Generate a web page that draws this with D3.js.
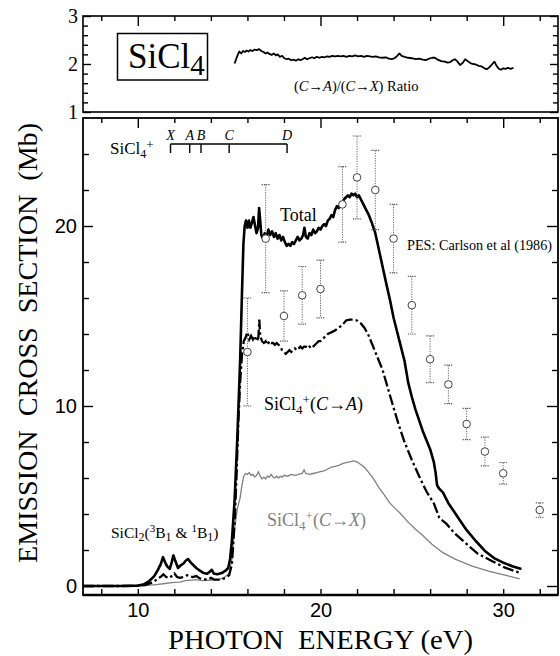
<html>
<head>
<title>SiCl4 emission cross section</title>
<script src="https://cdn.jsdelivr.net/npm/d3@7"></script>
<style>
body { margin: 0; background: #fff; }
svg { display: block; }
text.serif, text.serif tspan { font-family: "Liberation Serif", "Times New Roman", Times, serif; }
.tick text { font-family: "Liberation Sans", Arial, sans-serif; font-size: 20px; fill: #000; }
.toppanel .tick text { font-family: "Liberation Serif", "Times New Roman", serif; font-size: 20px; }
.tick line { stroke: #000; stroke-width: 1.4; }
</style>
</head>
<body>
<svg width="560" height="656"></svg>
<script>
// ---- data ----
// total emission cross section (Mb) vs photon energy (eV)
var totalCurve = [[7,0],[9,0],[10,0.02],[10.3,0.08],[10.6,0.25],[10.9,0.55],[11.1,0.9],[11.25,1.2],[11.38,1.6],[11.5,1.3],[11.6,1.1],[11.75,0.95],[11.85,1.3],[11.95,1.7],[12.05,1.4],[12.2,1.0],[12.35,1.15],[12.5,1.25],[12.62,1.4],[12.75,1.5],[12.9,1.3],[13.05,1.15],[13.2,1.0],[13.4,0.85],[13.6,0.72],[13.8,0.68],[13.95,0.8],[14.05,0.9],[14.15,0.7],[14.35,0.65],[14.6,0.72],[14.8,0.85],[14.95,1.0],[15.05,1.5],[15.15,2.5],[15.3,4.8],[15.45,8.3],[15.6,12.5],[15.7,16.2],[15.78,19.0],[15.85,20.0],[15.92,20.3],[16.0,19.9],[16.08,20.3],[16.16,19.9],[16.25,20.2],[16.33,20.5],[16.42,20.0],[16.5,19.6],[16.58,19.9],[16.64,21.0],[16.7,20.3],[16.76,19.5],[16.85,19.3],[16.95,19.6],[17.05,19.4],[17.15,19.8],[17.25,19.5],[17.35,19.7],[17.45,19.4],[17.55,19.6],[17.65,19.3],[17.75,19.5],[17.85,19.2],[17.95,19.4],[18.05,19.1],[18.15,18.9],[18.25,19.0],[18.35,18.9],[18.45,19.1],[18.55,19.0],[18.65,19.2],[18.75,19.4],[18.85,19.2],[18.95,19.3],[19.05,19.5],[19.12,19.9],[19.2,19.4],[19.3,19.3],[19.4,19.6],[19.5,19.5],[19.6,19.8],[19.7,19.6],[19.8,19.7],[19.9,19.9],[20.0,19.8],[20.1,20.0],[20.2,20.1],[20.3,20.0],[20.4,20.3],[20.5,20.4],[20.6,20.6],[20.7,20.5],[20.8,20.9],[20.9,21.1],[21.0,21.0],[21.1,21.3],[21.2,21.3],[21.3,21.5],[21.4,21.6],[21.5,21.7],[21.6,21.6],[21.7,21.8],[21.8,21.7],[21.9,21.8],[22.0,21.6],[22.1,21.7],[22.2,21.5],[22.35,21.2],[22.5,20.9],[22.65,20.6],[22.8,20.2],[23.0,19.6],[23.15,18.9],[23.3,18.2],[23.45,17.5],[23.6,16.8],[23.8,15.9],[24.0,14.9],[24.2,14.1],[24.4,13.3],[24.6,12.5],[24.8,11.3],[25.0,10.5],[25.2,9.8],[25.4,9.2],[25.6,8.6],[25.8,8.1],[26.0,7.6],[26.2,6.9],[26.3,6.3],[26.38,5.6],[26.5,5.4],[26.7,5.2],[27.0,4.6],[27.3,4.15],[27.6,3.7],[28.0,3.1],[28.5,2.5],[29.0,1.95],[29.5,1.55],[30.0,1.3],[30.5,1.1],[31.0,0.95]];

// SiCl4+ (C->A) band
var caCurve = [[7,0],[9,0],[10,0.01],[10.4,0.05],[10.8,0.2],[11.1,0.4],[11.3,0.55],[11.4,0.65],[11.55,0.5],[11.75,0.45],[11.9,0.6],[12.0,0.7],[12.15,0.5],[12.3,0.45],[12.5,0.5],[12.7,0.6],[12.85,0.55],[13.0,0.5],[13.2,0.55],[13.4,0.42],[13.6,0.38],[13.8,0.35],[14.0,0.45],[14.2,0.35],[14.5,0.35],[14.8,0.45],[15.0,0.6],[15.15,1.2],[15.3,3.5],[15.4,6.0],[15.5,9.0],[15.6,11.3],[15.7,12.8],[15.8,13.6],[15.9,13.8],[16.0,14.1],[16.1,13.7],[16.2,13.9],[16.3,13.7],[16.4,13.9],[16.5,13.6],[16.6,13.8],[16.65,14.8],[16.7,13.9],[16.8,13.6],[16.9,13.5],[17.0,13.6],[17.1,13.4],[17.2,13.6],[17.3,13.5],[17.4,13.5],[17.5,13.4],[17.6,13.5],[17.7,13.4],[17.8,13.3],[17.9,13.1],[18.0,13.0],[18.1,12.9],[18.2,13.0],[18.3,13.1],[18.4,13.0],[18.5,13.1],[18.6,13.2],[18.7,13.1],[18.8,13.2],[18.9,13.3],[19.0,13.2],[19.1,13.3],[19.2,13.3],[19.3,13.2],[19.4,13.3],[19.5,13.2],[19.6,13.3],[19.7,13.4],[19.8,13.5],[19.9,13.6],[20.0,13.6],[20.2,13.8],[20.4,14.0],[20.6,14.1],[20.8,14.2],[21.0,14.35],[21.2,14.5],[21.4,14.75],[21.6,14.8],[21.8,14.8],[22.0,14.75],[22.2,14.6],[22.4,14.35],[22.6,14.0],[22.8,13.5],[23.0,13.0],[23.2,12.5],[23.4,12.0],[23.6,11.3],[23.8,10.6],[24.0,9.9],[24.3,8.9],[24.6,8.0],[25.0,7.0],[25.4,6.1],[25.8,5.25],[26.2,4.6],[26.5,3.8],[26.6,3.7],[26.9,3.45],[27.3,2.97],[27.9,2.42],[28.6,1.8],[29.4,1.38],[30.1,1.02],[31.0,0.7]];

// SiCl4+ (C->X) band
var cxCurve = [[7,0],[9,0],[10,0.01],[10.5,0.03],[11.0,0.08],[11.5,0.14],[12.0,0.2],[12.3,0.22],[12.6,0.3],[12.9,0.33],[13.2,0.35],[13.5,0.3],[13.8,0.32],[14.1,0.33],[14.4,0.35],[14.7,0.45],[15.0,0.7],[15.15,1.5],[15.3,3.2],[15.45,4.3],[15.6,4.9],[15.7,5.6],[15.8,6.1],[15.9,6.25],[16.0,6.2],[16.1,6.3],[16.2,6.15],[16.3,6.2],[16.4,6.05],[16.5,6.15],[16.6,6.35],[16.7,6.1],[16.8,5.95],[16.9,6.05],[17.0,5.95],[17.1,6.1],[17.2,6.05],[17.3,6.2],[17.4,6.05],[17.5,6.0],[17.6,6.1],[17.7,6.0],[17.8,6.1],[17.9,6.05],[18.0,6.15],[18.2,6.1],[18.4,6.2],[18.6,6.15],[18.8,6.2],[19.0,6.25],[19.1,6.45],[19.2,6.25],[19.4,6.2],[19.6,6.25],[19.8,6.3],[20.0,6.35],[20.2,6.4],[20.4,6.5],[20.6,6.6],[20.8,6.65],[21.0,6.7],[21.2,6.8],[21.4,6.85],[21.6,6.9],[21.8,6.95],[22.0,6.9],[22.2,6.75],[22.4,6.6],[22.6,6.35],[22.8,6.1],[23.0,5.8],[23.2,5.47],[23.5,5.05],[23.8,4.6],[24.1,4.3],[24.4,4.0],[24.8,3.55],[25.2,3.15],[25.6,2.8],[26.1,2.32],[26.7,1.85],[27.4,1.48],[28.3,1.11],[29.2,0.83],[30.1,0.6],[30.9,0.4]];

// (C->A)/(C->X) ratio, top panel
var ratioCurve = [[15.3,2.01],[15.38,2.1],[15.48,2.2],[15.56,2.26],[15.66,2.22],[15.76,2.27],[15.86,2.25],[15.96,2.28],[16.06,2.26],[16.16,2.29],[16.28,2.27],[16.4,2.3],[16.52,2.29],[16.64,2.31],[16.76,2.27],[16.88,2.25],[17.0,2.22],[17.1,2.24],[17.2,2.21],[17.32,2.19],[17.44,2.22],[17.56,2.18],[17.66,2.2],[17.78,2.15],[17.9,2.17],[18.02,2.12],[18.14,2.1],[18.26,2.11],[18.4,2.08],[18.52,2.09],[18.66,2.07],[18.78,2.1],[18.9,2.08],[19.02,2.1],[19.14,2.13],[19.26,2.1],[19.4,2.12],[19.54,2.14],[19.66,2.12],[19.8,2.15],[19.94,2.13],[20.08,2.15],[20.22,2.14],[20.36,2.16],[20.5,2.15],[20.64,2.17],[20.8,2.16],[20.96,2.17],[21.1,2.16],[21.26,2.17],[21.42,2.15],[21.58,2.17],[21.74,2.16],[21.9,2.18],[22.06,2.16],[22.22,2.17],[22.38,2.15],[22.54,2.17],[22.7,2.16],[22.86,2.15],[23.02,2.16],[23.2,2.14],[23.4,2.13],[23.58,2.14],[23.74,2.11],[23.9,2.1],[24.05,2.12],[24.2,2.17],[24.32,2.22],[24.44,2.17],[24.6,2.15],[24.8,2.13],[25.0,2.12],[25.2,2.1],[25.4,2.11],[25.6,2.09],[25.76,2.08],[25.94,2.11],[26.12,2.13],[26.26,2.13],[26.42,2.09],[26.6,2.06],[26.8,2.05],[26.96,2.03],[27.1,2.04],[27.24,2.08],[27.36,2.1],[27.5,2.05],[27.64,1.98],[27.78,2.02],[27.92,2.1],[28.06,2.06],[28.2,2.02],[28.34,2.0],[28.5,1.99],[28.66,1.96],[28.82,1.95],[28.98,1.91],[29.1,1.89],[29.24,1.93],[29.38,1.99],[29.52,2.05],[29.64,1.96],[29.76,1.9],[29.88,1.88],[30.0,1.91],[30.12,1.9],[30.26,1.92],[30.4,1.9],[30.56,1.92]];

// PES: Carlson et al (1986)
var pesEnergy = [16, 17, 18, 19, 20, 21.2, 22, 23, 24, 25, 26, 27, 28, 29, 30, 32];
var pesValue  = [13.0, 19.3, 15.0, 16.15, 16.5, 21.2, 22.7, 22.0, 19.3, 15.6, 12.6, 11.2, 9.0, 7.47, 6.26, 4.22];
var pesError  = [3.0, 3.0, 1.4, 1.6, 1.6, 2.1, 2.3, 2.2, 1.9, 1.6, 1.3, 1.07, 0.87, 0.8, 0.6, 0.4];

// SiCl4+ ionic state thresholds
var stateNames = ["X", "A", "B", "C", "D"];
var stateEnergy = [11.79, 12.84, 13.46, 15.0, 18.17];

// ticks
var xMinorTicks = [8, 12, 14, 16, 18, 22, 24, 26, 28, 32];
var xMajorTicks = [10, 20, 30];
var yMinorTicks = [2, 4, 6, 8, 12, 14, 16, 18, 22, 24];
var yMajorTicks = [0, 10, 20];
var rMinorTicks = [1.2, 1.4, 1.6, 1.8, 2.2, 2.4, 2.6, 2.8];
var rMajorTicks = [1, 2, 3];

var SERIF = "Liberation Serif, Times New Roman, serif";
var svg = d3.select("svg");

var x = d3.scaleLinear().domain([7, 33]).range([83, 558]);
var y = d3.scaleLinear().domain([-0.5, 26]).range([595, 118]);
var yr = d3.scaleLinear().domain([1, 3]).range([112, 16]);

function noDomain(g) { g.select(".domain").remove(); }

// frames
svg.append("rect").attr("x", x(7)).attr("y", yr(3))
  .attr("width", x(33) - x(7)).attr("height", yr(1) - yr(3))
  .attr("fill", "none").attr("stroke", "#000").attr("stroke-width", 1.6);
svg.append("rect").attr("x", x(7)).attr("y", y(26))
  .attr("width", x(33) - x(7)).attr("height", y(-0.5) - y(26))
  .attr("fill", "none").attr("stroke", "#000").attr("stroke-width", 1.8);
svg.append("line").attr("x1", x(7)).attr("x2", x(33)).attr("y1", y(-0.5)).attr("y2", y(-0.5))
  .attr("stroke", "#000").attr("stroke-width", 2.4);

// ---- top panel axes ----
var topG = svg.append("g").attr("class", "toppanel");
topG.append("g").attr("transform", "translate(0," + yr(3) + ")")
  .call(d3.axisTop(x).tickValues(xMinorTicks).tickSize(-5).tickFormat("")).call(noDomain);
topG.append("g").attr("transform", "translate(0," + yr(3) + ")")
  .call(d3.axisTop(x).tickValues(xMajorTicks).tickSize(-10).tickFormat("")).call(noDomain);
topG.append("g").attr("transform", "translate(" + x(7) + ",0)")
  .call(d3.axisLeft(yr).tickValues(rMinorTicks).tickSize(-5).tickFormat("")).call(noDomain);
topG.append("g").attr("transform", "translate(" + x(7) + ",0)")
  .call(d3.axisLeft(yr).tickValues(rMajorTicks).tickSize(-8).tickPadding(5).tickFormat(d3.format("d"))).call(noDomain);
topG.append("g").attr("transform", "translate(" + x(33) + ",0)")
  .call(d3.axisRight(yr).tickValues(rMinorTicks).tickSize(-5).tickFormat("")).call(noDomain);
topG.append("g").attr("transform", "translate(" + x(33) + ",0)")
  .call(d3.axisRight(yr).tickValues(rMajorTicks).tickSize(-8).tickFormat("")).call(noDomain);

// ---- main panel axes ----
svg.append("g").attr("transform", "translate(0," + y(-0.5) + ")")
  .call(d3.axisBottom(x).tickValues(xMinorTicks).tickSize(-6).tickFormat("")).call(noDomain);
svg.append("g").attr("transform", "translate(0," + y(-0.5) + ")")
  .call(d3.axisBottom(x).tickValues(xMajorTicks).tickSize(-6).tickPadding(8).tickFormat(d3.format("d"))).call(noDomain);
svg.append("g").attr("transform", "translate(0," + y(26) + ")")
  .call(d3.axisTop(x).tickValues(xMinorTicks).tickSize(-5).tickFormat("")).call(noDomain);
svg.append("g").attr("transform", "translate(0," + y(26) + ")")
  .call(d3.axisTop(x).tickValues(xMajorTicks).tickSize(-10).tickFormat("")).call(noDomain);
svg.append("g").attr("transform", "translate(" + x(7) + ",0)")
  .call(d3.axisLeft(y).tickValues(yMinorTicks).tickSize(-6).tickFormat("")).call(noDomain);
svg.append("g").attr("transform", "translate(" + x(7) + ",0)")
  .call(d3.axisLeft(y).tickValues(yMajorTicks).tickSize(-10).tickPadding(6).tickFormat(d3.format("d"))).call(noDomain);
svg.append("g").attr("transform", "translate(" + x(33) + ",0)")
  .call(d3.axisRight(y).tickValues(yMinorTicks).tickSize(-6).tickFormat("")).call(noDomain);
svg.append("g").attr("transform", "translate(" + x(33) + ",0)")
  .call(d3.axisRight(y).tickValues(yMajorTicks).tickSize(-11).tickFormat("")).call(noDomain);

// ---- curves ----
var line = d3.line().x(function (d) { return x(d[0]); }).y(function (d) { return y(d[1]); });
var rline = d3.line().x(function (d) { return x(d[0]); }).y(function (d) { return yr(d[1]); });

svg.append("path").datum(ratioCurve).attr("d", rline)
  .attr("fill", "none").attr("stroke", "#000").attr("stroke-width", 1.8).attr("stroke-linejoin", "round");

svg.append("path").datum(cxCurve).attr("d", line)
  .attr("fill", "none").attr("stroke", "#808080").attr("stroke-width", 1.3);
svg.append("path").datum(caCurve).attr("d", line)
  .attr("fill", "none").attr("stroke", "#000").attr("stroke-width", 2.3)
  .attr("stroke-dasharray", "11,3,2.5,3");
svg.append("path").datum(totalCurve).attr("d", line)
  .attr("fill", "none").attr("stroke", "#000").attr("stroke-width", 2.6).attr("stroke-linejoin", "round");

// ---- PES points with error bars ----
var pes = pesEnergy.map(function (e, i) { return { e: e, v: pesValue[i], err: pesError[i] }; });
var pg = svg.append("g").selectAll("g").data(pes).enter().append("g");
pg.append("line")
  .attr("x1", function (d) { return x(d.e); }).attr("x2", function (d) { return x(d.e); })
  .attr("y1", function (d) { return y(d.v + d.err); }).attr("y2", function (d) { return y(d.v - d.err); })
  .attr("stroke", "#666").attr("stroke-width", 1).attr("stroke-dasharray", "1.2,1.3");
pg.selectAll("line.cap").data(function (d) { return [d.v + d.err, d.v - d.err].map(function (v) { return { e: d.e, v: v }; }); })
  .enter().append("line").attr("class", "cap")
  .attr("x1", function (d) { return x(d.e) - 4; }).attr("x2", function (d) { return x(d.e) + 4; })
  .attr("y1", function (d) { return y(d.v); }).attr("y2", function (d) { return y(d.v); })
  .attr("stroke", "#555").attr("stroke-width", 1.2).attr("stroke-dasharray", "1.2,1");
pg.append("circle")
  .attr("cx", function (d) { return x(d.e); }).attr("cy", function (d) { return y(d.v); })
  .attr("r", 3.8).attr("fill", "#fff").attr("stroke", "#444").attr("stroke-width", 1);

// ---- ionic state bar ----
var sb = svg.append("g");
sb.append("line").attr("x1", x(stateEnergy[0])).attr("x2", x(stateEnergy[4]))
  .attr("y1", 144).attr("y2", 144).attr("stroke", "#000").attr("stroke-width", 1.5);
sb.selectAll("line.st").data(stateEnergy).enter().append("line").attr("class", "st")
  .attr("x1", function (d) { return x(d); }).attr("x2", function (d) { return x(d); })
  .attr("y1", 144).attr("y2", 153).attr("stroke", "#000").attr("stroke-width", 1.4);
sb.selectAll("text").data(stateNames).enter().append("text").attr("class", "serif")
  .attr("font-family", SERIF)
  .attr("x", function (d, i) { return x(stateEnergy[i]); }).attr("y", 140)
  .attr("text-anchor", "middle").attr("font-size", 14).attr("font-style", "italic").text(function (d) { return d; });

// ---- text labels ----
function label(xp, yp, size) {
  return svg.append("text").attr("class", "serif").attr("font-family", SERIF)
    .attr("x", xp).attr("y", yp).attr("font-size", size);
}
function tsp(t, str, opts) {
  var s = t.append("tspan").text(str);
  if (opts) Object.keys(opts).forEach(function (k) { s.attr(k, opts[k]); });
  return s;
}

var t = label(110, 154, 17);
tsp(t, "SiCl"); tsp(t, "4", { "font-size": 12, dy: 4 }); tsp(t, "+", { "font-size": 13, dy: -9 });

label(280, 221, 18).text("Total");
label(407, 250, 14.2).text("PES: Carlson et al (1986)");

t = label(264, 410, 18);
tsp(t, "SiCl"); tsp(t, "4", { "font-size": 13, dy: 4 }); tsp(t, "+", { "font-size": 13, dy: -10 });
tsp(t, "(", { dy: 6 }); tsp(t, "C", { "font-style": "italic" }); tsp(t, "\u2192"); tsp(t, "A", { "font-style": "italic" }); tsp(t, ")");

t = label(267, 526, 18).attr("fill", "#808080");
tsp(t, "SiCl"); tsp(t, "4", { "font-size": 13, dy: 4 }); tsp(t, "+", { "font-size": 13, dy: -10 });
tsp(t, "(", { dy: 6 }); tsp(t, "C", { "font-style": "italic" }); tsp(t, "\u2192"); tsp(t, "X", { "font-style": "italic" }); tsp(t, ")");

t = label(111, 538, 15.5);
tsp(t, "SiCl"); tsp(t, "2", { "font-size": 12, dy: 3 }); tsp(t, "(", { dy: -3 });
tsp(t, "3", { "font-size": 11, dy: -6 }); tsp(t, "B", { dy: 6 }); tsp(t, "1", { "font-size": 12, dy: 3 });
tsp(t, " & ", { dy: -3 }); tsp(t, "1", { "font-size": 11, dy: -6 }); tsp(t, "B", { dy: 6 });
tsp(t, "1", { "font-size": 12, dy: 3 }); tsp(t, ")", { dy: -3 });

// top panel box and ratio label
svg.append("rect").attr("x", 117.5).attr("y", 33.5).attr("width", 90).attr("height", 46.5)
  .attr("fill", "none").attr("stroke", "#000").attr("stroke-width", 1.5);
t = label(128, 67.5, 35);
tsp(t, "SiCl"); tsp(t, "4", { "font-size": 29, dy: 7 });

t = label(294, 91, 14.5);
tsp(t, "("); tsp(t, "C", { "font-style": "italic" }); tsp(t, "\u2192"); tsp(t, "A", { "font-style": "italic" });
tsp(t, ")/("); tsp(t, "C", { "font-style": "italic" }); tsp(t, "\u2192"); tsp(t, "X", { "font-style": "italic" }); tsp(t, ") Ratio");

// axis titles
svg.append("text").attr("class", "serif").attr("font-family", SERIF)
  .attr("transform", "translate(37,343) rotate(-90)")
  .attr("text-anchor", "middle").attr("font-size", 28)
  .attr("textLength", 440).attr("lengthAdjust", "spacingAndGlyphs")
  .style("white-space", "pre").text("EMISSION  CROSS  SECTION  (Mb)");
svg.append("text").attr("class", "serif").attr("font-family", SERIF)
  .attr("x", 320.5).attr("y", 649)
  .attr("text-anchor", "middle").attr("font-size", 27)
  .attr("textLength", 305).attr("lengthAdjust", "spacingAndGlyphs")
  .style("white-space", "pre").text("PHOTON  ENERGY (eV)");
</script>
</body>
</html>
